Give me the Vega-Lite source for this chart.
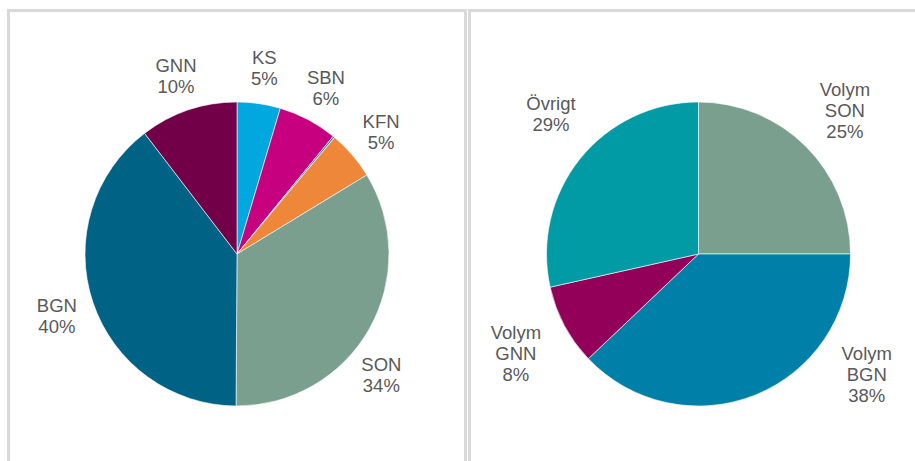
{
  "$schema": "https://vega.github.io/schema/vega-lite/v6.json",
  "padding": {"left": 6.5, "top": 8.5, "right": 0, "bottom": 0},
  "autosize": {"type": "pad"},
  "spacing": 0,
  "config": {
    "view": {"stroke": "#d9d9d9", "strokeWidth": 3},
    "text": {"font": "Liberation Sans", "fontSize": 18.5, "fill": "#595959", "lineBreak": " ", "lineHeight": 21}
  },
  "resolve": {"scale": {"color": "independent", "theta": "independent"}},
  "hconcat": [
    {
      "width": 457,
      "height": 487,
      "view": {"stroke": "#d9d9d9", "strokeWidth": 3},
      "data": {"values": [
        {"k": 1, "name": "KS", "value": 4.6, "pct": "5%"},
        {"k": 2, "name": "SBN", "value": 6.3, "pct": "6%"},
        {"k": 3, "name": "Övrigt", "value": 0.2, "pct": ""},
        {"k": 4, "name": "KFN", "value": 5.2, "pct": "5%"},
        {"k": 5, "name": "SON", "value": 33.8, "pct": "34%"},
        {"k": 6, "name": "BGN", "value": 39.5, "pct": "40%"},
        {"k": 7, "name": "GNN", "value": 10.4, "pct": "10%"}
      ]},
      "transform": [{"calculate": "datum.pct == '' ? '' : datum.name + ' ' + datum.pct", "as": "label"}],
      "encoding": {
        "theta": {"field": "value", "type": "quantitative", "stack": true},
        "order": {"field": "k", "type": "quantitative"}
      },
      "layer": [
        {
          "mark": {"type": "arc", "outerRadius": 152, "stroke": "#ffffff", "strokeWidth": 0.6},
          "encoding": {
            "color": {"field": "name", "type": "nominal", "legend": null,
              "scale": {"domain": ["KS", "SBN", "Övrigt", "KFN", "SON", "BGN", "GNN"],
                        "range": ["#00a8df", "#c6007e", "#3b8fa0", "#ef873a", "#7a9f8f", "#006385", "#720048"]}}
          }
        },
        {
          "mark": {"type": "text", "radius": 190, "dy": -8},
          "encoding": {"text": {"condition": {"test": "datum.name != 'SON'", "field": "label"}, "value": ""}}
        },
        {
          "mark": {"type": "text", "radius": 190, "dx": -21, "dy": 17},
          "encoding": {"text": {"condition": {"test": "datum.name == 'SON'", "field": "label"}, "value": ""}}
        }
      ]
    },
    {
      "width": 458,
      "height": 487,
      "view": {"stroke": "#d9d9d9", "strokeWidth": 3},
      "data": {"values": [
        {"k": 1, "name": "Volym SON", "value": 25.0, "pct": "25%"},
        {"k": 2, "name": "Volym BGN", "value": 37.9, "pct": "38%"},
        {"k": 3, "name": "Volym GNN", "value": 8.6, "pct": "8%"},
        {"k": 4, "name": "Övrigt", "value": 28.5, "pct": "29%"}
      ]},
      "transform": [{"calculate": "datum.name + ' ' + datum.pct", "as": "label"}],
      "encoding": {
        "theta": {"field": "value", "type": "quantitative", "stack": true},
        "order": {"field": "k", "type": "quantitative"}
      },
      "layer": [
        {
          "mark": {"type": "arc", "outerRadius": 152, "stroke": "#ffffff", "strokeWidth": 0.6},
          "encoding": {
            "color": {"field": "name", "type": "nominal", "legend": null,
              "scale": {"domain": ["Volym SON", "Volym BGN", "Volym GNN", "Övrigt"],
                        "range": ["#7a9f8f", "#0080a8", "#93005a", "#009ba5"]}}
          }
        },
        {
          "mark": {"type": "text", "radius": 207, "dx": 14, "dy": -21},
          "encoding": {"text": {"condition": {"test": "datum.name == 'Övrigt'", "field": "label"}, "value": ""}}
        },
        {
          "mark": {"type": "text", "radius": 207, "dy": -18},
          "encoding": {"text": {"condition": {"test": "datum.name == 'Volym SON' || datum.name == 'Volym GNN'", "field": "label"}, "value": ""}}
        },
        {
          "mark": {"type": "text", "radius": 200, "dx": 94, "dy": -86},
          "encoding": {"text": {"condition": {"test": "datum.name == 'Volym BGN'", "field": "label"}, "value": ""}}
        }
      ]
    }
  ]
}
